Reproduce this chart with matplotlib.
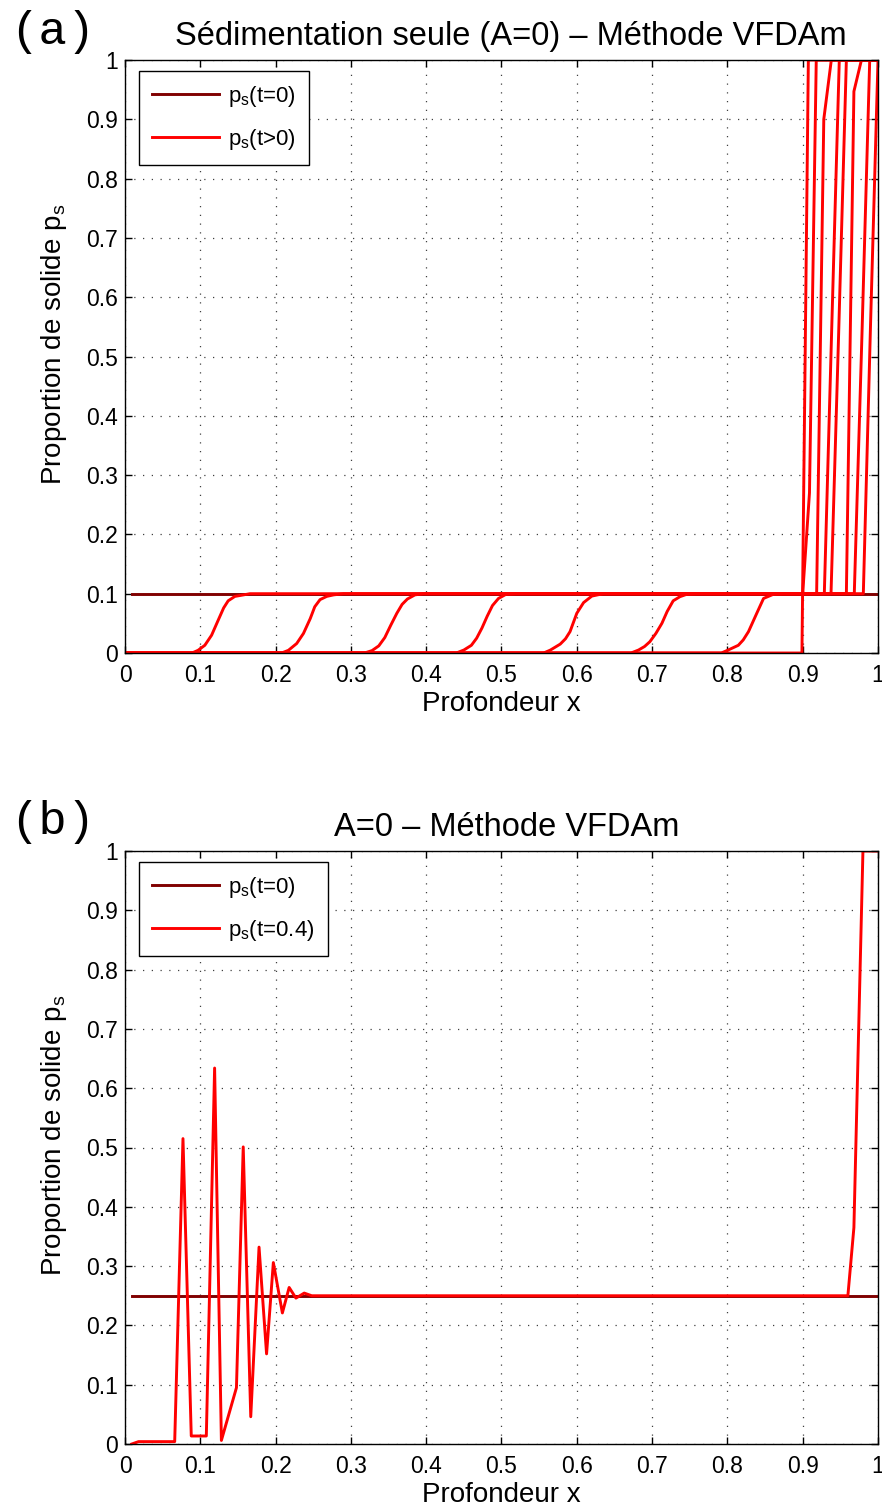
import numpy as np
import matplotlib
matplotlib.use("Agg")
import matplotlib.pyplot as plt

plt.rcParams['font.family'] = ['Liberation Sans', 'DejaVu Sans']
plt.rcParams['mathtext.default'] = 'regular'

# ---- panel (a): sedimentation only, profiles at successive times ----
x_init_a = [0.009, 1.0]
ps_init_a = [0.1, 0.1]

x1 = [0.0, 0.089, 0.097, 0.106, 0.115, 0.124, 0.131, 0.137, 0.146, 0.153, 0.166, 0.9805, 0.990, 1.0]
p1 = [0.0, 0.0, 0.0045, 0.013, 0.030, 0.056, 0.076, 0.088, 0.0955, 0.097, 0.1, 0.1, 0.55, 1.0]

x2 = [0.0, 0.208, 0.217, 0.228, 0.237, 0.246, 0.252, 0.259, 0.268, 0.277, 0.290, 0.9685, 0.979, 0.989, 1.0]
p2 = [0.0, 0.0, 0.0045, 0.016, 0.033, 0.058, 0.078, 0.090, 0.0955, 0.098, 0.1, 0.1, 0.55, 1.0, 1.0]

x3 = [0.0, 0.318, 0.328, 0.337, 0.345, 0.353, 0.361, 0.368, 0.375, 0.385, 0.396, 0.958, 0.968, 0.978, 1.0]
p3 = [0.0, 0.0, 0.004, 0.012, 0.026, 0.047, 0.067, 0.082, 0.091, 0.098, 0.1, 0.1, 0.947, 1.0, 1.0]

x4 = [0.0, 0.440, 0.450, 0.460, 0.467, 0.474, 0.481, 0.488, 0.496, 0.506, 0.520, 0.9376, 0.948, 0.958, 1.0]
p4 = [0.0, 0.0, 0.005, 0.013, 0.025, 0.042, 0.062, 0.080, 0.092, 0.099, 0.1, 0.1, 0.55, 1.0, 1.0]

x5 = [0.0, 0.556, 0.565, 0.578, 0.585, 0.591, 0.600, 0.609, 0.620, 0.635, 0.9287, 0.9386, 0.9486, 1.0]
p5 = [0.0, 0.0, 0.005, 0.015, 0.024, 0.036, 0.067, 0.085, 0.096, 0.1, 0.1, 0.55, 1.0, 1.0]

x6 = [0.0, 0.672, 0.682, 0.690, 0.697, 0.705, 0.713, 0.720, 0.728, 0.737, 0.746, 0.759, 0.9185, 0.928, 0.938, 1.0]
p6 = [0.0, 0.0, 0.005, 0.011, 0.019, 0.033, 0.050, 0.070, 0.088, 0.095, 0.099, 0.1, 0.1, 0.9, 1.0, 1.0]

x7 = [0.0, 0.792, 0.801, 0.8145, 0.821, 0.828, 0.839, 0.848, 0.861, 0.874, 0.900, 0.909, 0.918, 1.0]
p7 = [0.0, 0.0, 0.005, 0.013, 0.022, 0.036, 0.067, 0.092, 0.099, 0.1, 0.1, 0.27, 1.0, 1.0]

x8 = [0.0, 0.899, 0.9075, 1.0]
p8 = [0.0, 0.0, 1.0, 1.0]

# ---- panel (b): A=0, t=0.4 ----
x_init_b = [0.009, 1.0]
ps_init_b = [0.25, 0.25]

x_b = [0.009, 0.018, 0.066, 0.077, 0.088, 0.108, 0.119, 0.128, 0.148, 0.157, 0.167,
       0.178, 0.188, 0.197, 0.209, 0.218, 0.227, 0.238, 0.248, 0.960, 0.968, 0.980, 1.0]
ps_b = [0.0, 0.004, 0.004, 0.515, 0.0135, 0.0135, 0.634, 0.006, 0.095, 0.501, 0.046,
        0.332, 0.152, 0.306, 0.221, 0.264, 0.246, 0.2545, 0.25, 0.25, 0.365, 1.0, 1.0]

ticks = [0, 0.1, 0.2, 0.3, 0.4, 0.5, 0.6, 0.7, 0.8, 0.9, 1]
tick_labels = ['0', '0.1', '0.2', '0.3', '0.4', '0.5', '0.6', '0.7', '0.8', '0.9', '1']

DARK = '#800000'
RED = '#ff0000'
LW = 2.1


def style_axes(ax, title, title_x, handles, labels):
    ax.set_xlim(0, 1)
    ax.set_ylim(0, 1)
    ax.set_xticks(ticks)
    ax.set_yticks(ticks)
    ax.set_xticklabels(tick_labels)
    ax.set_yticklabels(tick_labels)
    ax.tick_params(direction='in', length=5, width=1, labelsize=16.5,
                   top=True, right=True)
    ax.tick_params(axis='x', pad=8)
    ax.tick_params(axis='y', pad=5)
    ax.grid(True, color='0.25', linestyle=(0, (1, 6)), linewidth=0.9)
    for s in ax.spines.values():
        s.set_linewidth(1.0)
    ax.set_title(title, fontsize=23.5, pad=11, x=title_x)
    ax.set_xlabel('Profondeur x', fontsize=20, labelpad=3)
    ax.set_ylabel('Proportion de solide $p_s$', fontsize=20)
    ax.yaxis.set_label_coords(-0.075, 0.52)
    leg = ax.legend(handles, labels, loc='upper left', bbox_to_anchor=(0.0186, 0.982),
                    borderaxespad=0, fontsize=16, fancybox=False, framealpha=1,
                    edgecolor='black', handlelength=3.0, labelspacing=0.8,
                    borderpad=0.6, handletextpad=0.4)
    leg.get_frame().set_linewidth(1.0)


fig = plt.figure(figsize=(8.82, 15.09), dpi=100)
ax_a = fig.add_axes([125 / 882, 1 - 653 / 1509, 753 / 882, 593 / 1509])
ax_b = fig.add_axes([125 / 882, 1 - 1444 / 1509, 753 / 882, 593 / 1509])

h0, = ax_a.plot(x_init_a, ps_init_a, color=DARK, lw=LW)
hr = None
for xs, ps in [(x1, p1), (x2, p2), (x3, p3), (x4, p4), (x5, p5), (x6, p6), (x7, p7), (x8, p8)]:
    hr, = ax_a.plot(xs, ps, color=RED, lw=LW)
style_axes(ax_a, 'Sédimentation seule (A=0) – Méthode VFDAm', 0.513,
           [h0, hr], ['p$_s$(t=0)', 'p$_s$(t>0)'])

g0, = ax_b.plot(x_init_b, ps_init_b, color=DARK, lw=LW)
g1, = ax_b.plot(x_b, ps_b, color=RED, lw=LW)
style_axes(ax_b, 'A=0 – Méthode VFDAm', 0.507, [g0, g1], ['p$_s$(t=0)', 'p$_s$(t=0.4)'])

fig.text(10 / 882, 1 - 10 / 1509, '(a)', family='Liberation Mono', fontsize=34, va='top')
fig.text(10 / 882, 1 - 800 / 1509, '(b)', family='Liberation Mono', fontsize=34, va='top')

fig.savefig('out.png', dpi=100)
